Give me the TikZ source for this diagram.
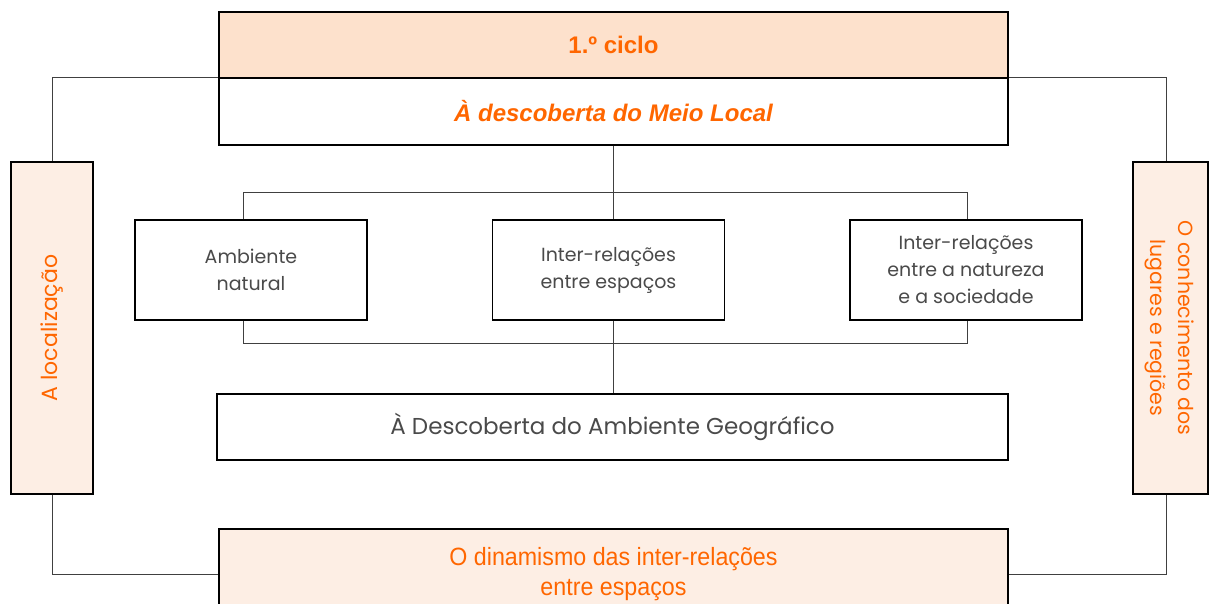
\documentclass[tikz,border=0pt]{standalone}
\usepackage{fontspec}
\setmainfont{Liberation Sans}
\newfontfamily\gothic{Poppins}
\newfontfamily\narrowfont[FakeStretch=0.93]{Liberation Sans}
\definecolor{laranja}{HTML}{FF6600}
\definecolor{pessego}{HTML}{FDE1CC}
\definecolor{creme}{HTML}{FDEEE4}
\definecolor{cinza}{HTML}{4A4A4A}
\begin{document}
\begin{tikzpicture}
		[x=1pt,y=-1pt,
		caixa/.style={draw=black,line width=1.2pt,inner sep=0pt,align=center},
		titulo/.style={caixa,fill=pessego,text=laranja,font=\fontsize{24}{28}\selectfont\bfseries},
		lateral/.style={caixa,fill=creme,text=laranja,minimum height=332pt},
		tema/.style={caixa,fill=white,text=cinza,minimum width=232pt,minimum height=100pt,
font=\gothic\fontsize{19}{27}\selectfont},
		ligacao/.style={-,draw=black!75,line width=0.9pt}]
		\useasboundingbox (0,0) rectangle (1209,604);
		% quadro central
		\node at (613.5,45) (ciclo) [titulo,minimum width=789pt,minimum height=66pt] {1.º ciclo};
		\node at (613.5,111.5) (meio) [caixa,minimum width=789pt,minimum height=67pt,
text=laranja,font=\fontsize{24}{28}\selectfont\bfseries\itshape] {À descoberta do Meio Local};
		\node at (251,270) (natural) [tema] {Ambiente\\natural};
		\node at (608.5,270) (espacos) [tema] {Inter-relações\\entre espaços};
		\node at (966,270) (sociedade) [tema] {Inter-relações\\entre a natureza\\e a sociedade};
		\node at (612.5,427) (ambiente) [caixa,minimum width=791pt,minimum height=66pt,
text=cinza,font=\gothic\fontsize{23}{26}\selectfont] {À Descoberta do Ambiente Geográfico};
		% caixas laterais e de baixo
		\node at (52,328) (local) [lateral,minimum width=82pt,font=\gothic\fontsize{22}{28}\selectfont]
			{\rotatebox{90}{A localização}};
		\node at (1170.5,328) (lugares) [lateral,minimum width=75pt,font=\gothic\fontsize{20.5}{28}\selectfont]
			{\rotatebox{-90}{\begin{tabular}{@{}c@{}}O conhecimento dos\\lugares e regiões\end{tabular}}};
		\node at (613.5,574) (dinamismo) [caixa,fill=creme,minimum width=789pt,minimum height=90pt,
text=laranja,font=\narrowfont\fontsize{25}{30}\selectfont] {O dinamismo das inter-relações\\entre espaços};
		% ligacoes
		\draw [ligacao] (meio.north west) -| (local.north);
		\draw [ligacao] (local.south) |- (dinamismo.west);
		\draw [ligacao] (meio.north east) -| ([xshift=-4.5pt]lugares.north);
		\draw [ligacao] ([xshift=-4.5pt]lugares.south) |- (dinamismo.east);
		\draw [ligacao] (meio.south) -- (meio.south |- espacos.north);
		\draw [ligacao] ([xshift=-8pt]natural.north) -- ++(0,-27) -| ([xshift=1pt]sociedade.north);
		\draw [ligacao] ([xshift=-8pt]natural.south) -- ++(0,23) -| ([xshift=1pt]sociedade.south);
		\draw [ligacao] (meio.south |- espacos.south) -- (meio.south |- ambiente.north);
	\end{tikzpicture}
\end{document}
